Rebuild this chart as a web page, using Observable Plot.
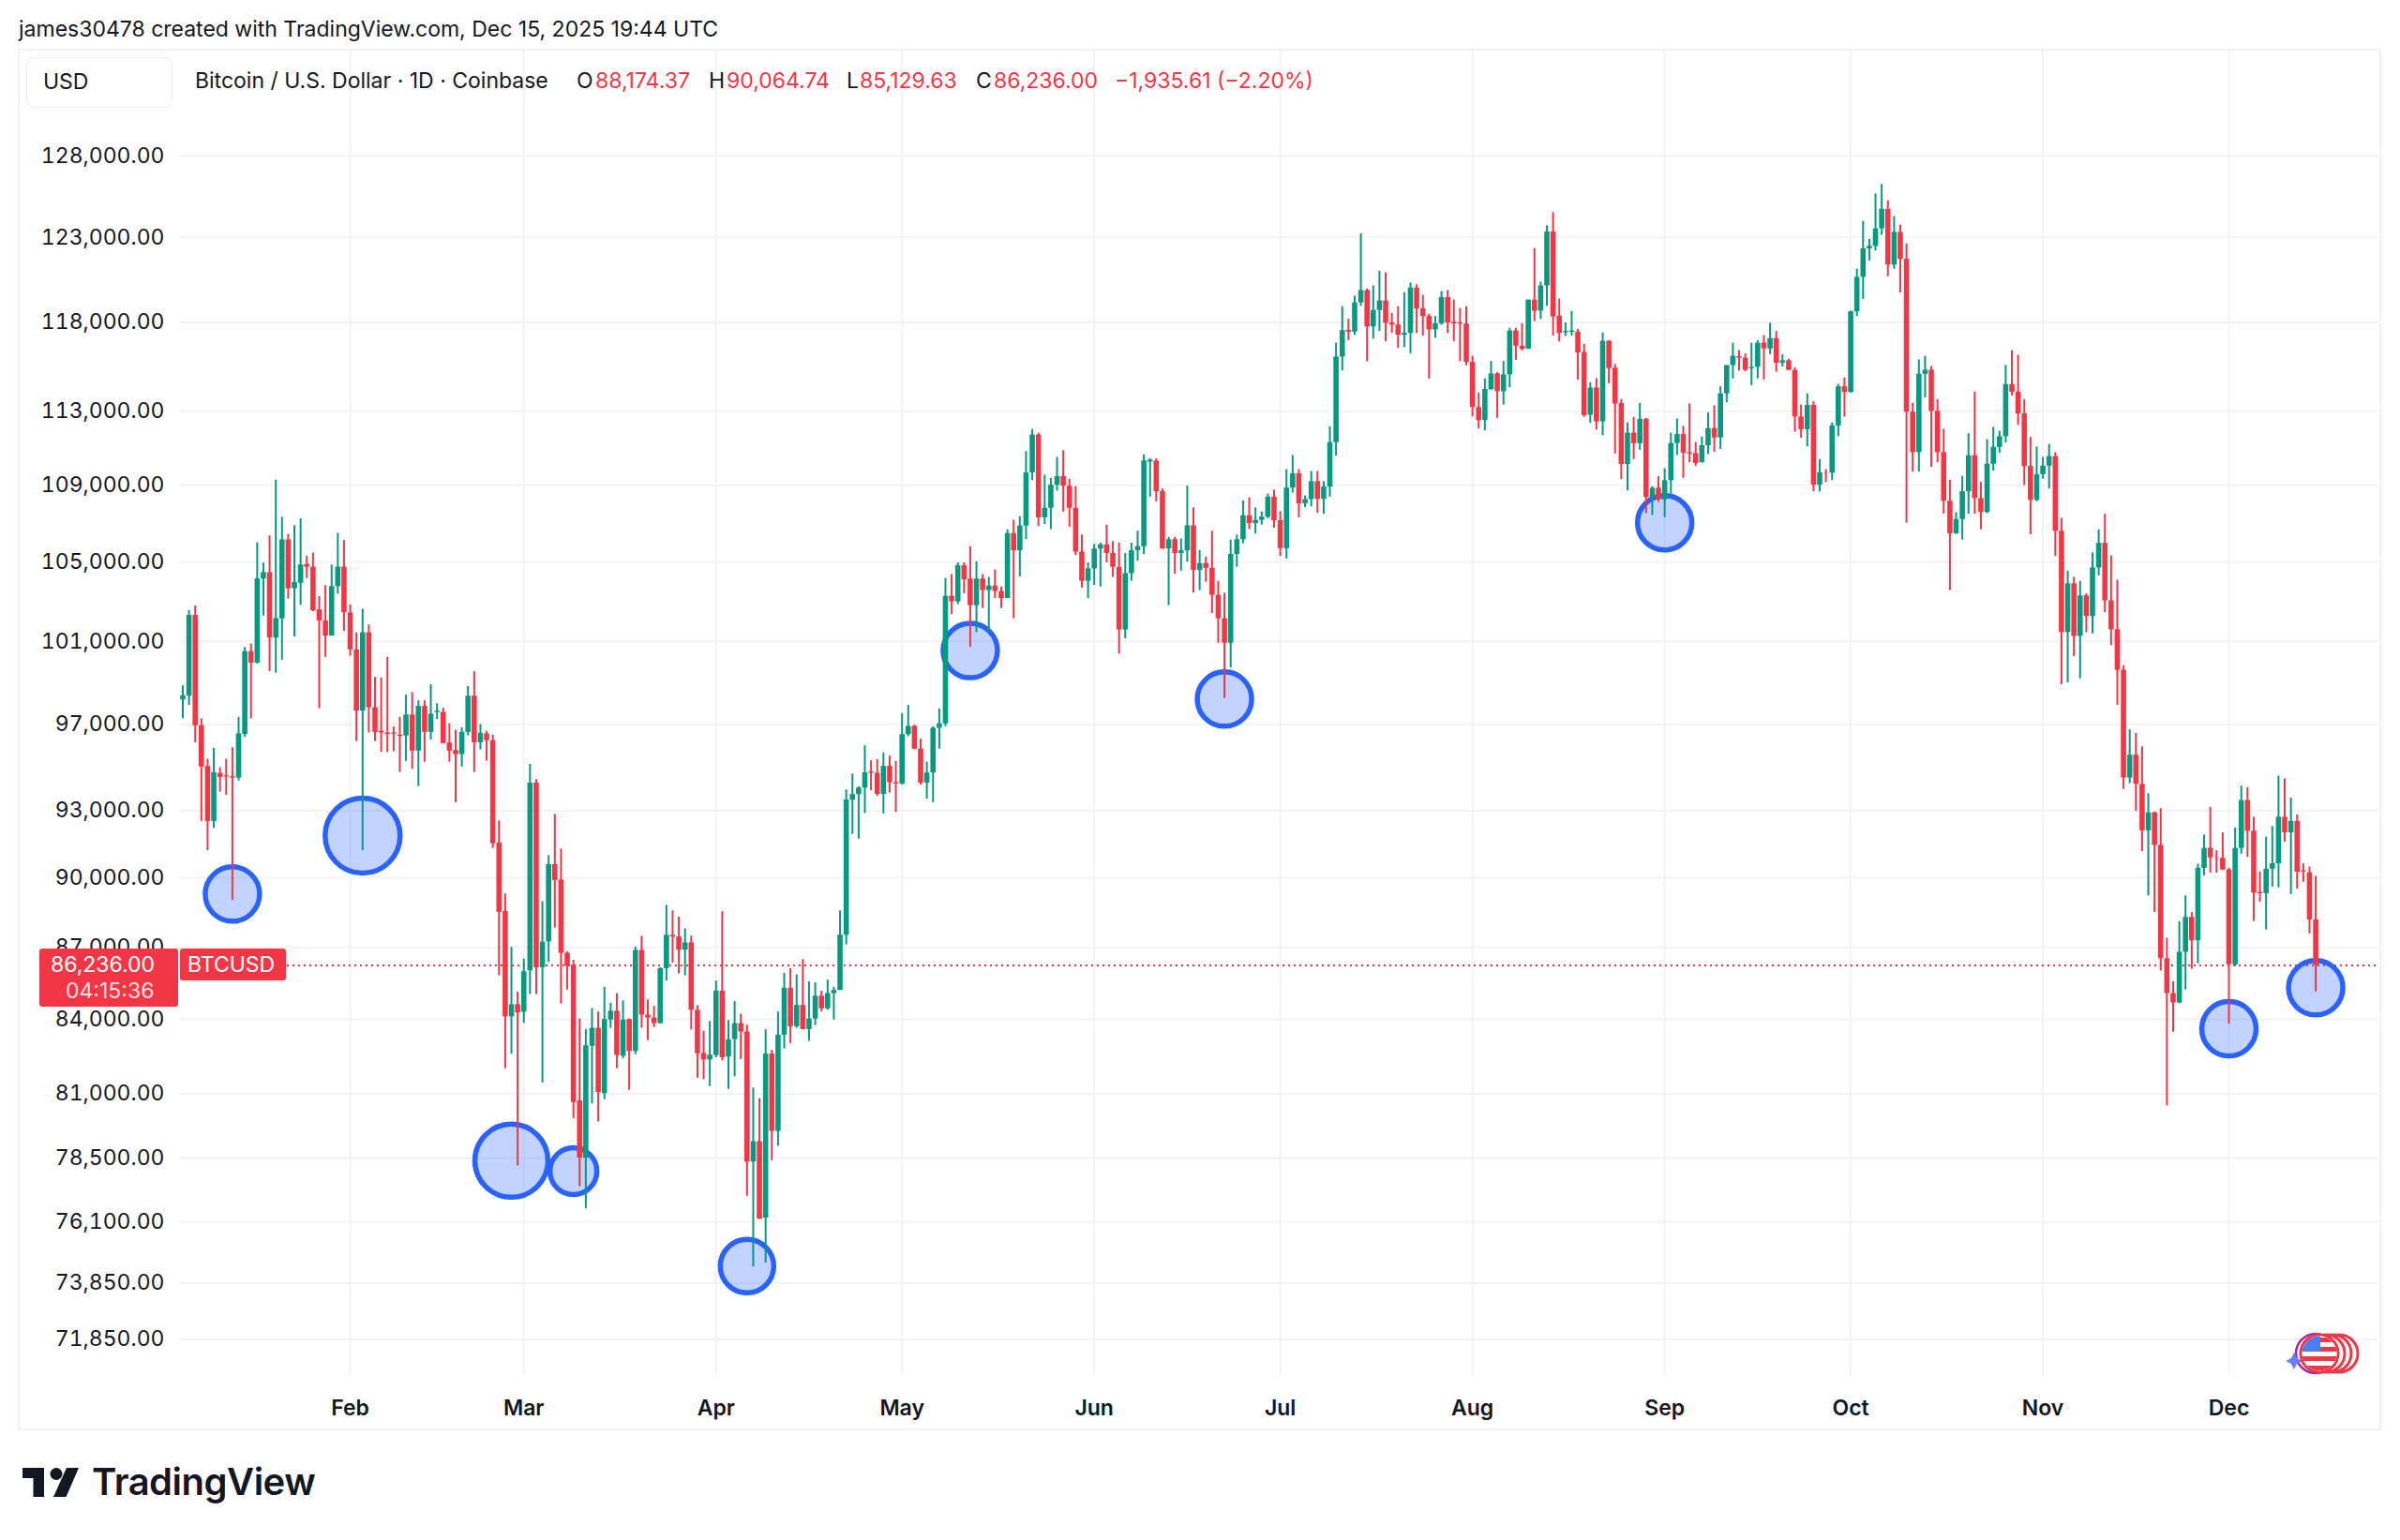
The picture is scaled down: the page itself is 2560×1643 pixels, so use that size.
<!DOCTYPE html>
<html>
<head>
<meta charset="utf-8">
<script src="https://cdn.jsdelivr.net/npm/d3@7"></script>
<script src="https://cdn.jsdelivr.net/npm/@observablehq/plot@0.6"></script>
<style>
  html, body { margin: 0; background: #fff; }
  body { position: relative; width: 2560px; height: 1643px; overflow: hidden; font-family: Inter, sans-serif; color: #131722; }
  #chart { position: absolute; left: 0; top: 0; }
  .abs { position: absolute; white-space: nowrap; line-height: 1; }
  #frame { position: absolute; left: 19px; top: 52px; width: 2517px; height: 1470px; border: 2px solid #f2f2f2; }
  #usd { position: absolute; left: 28px; top: 61px; width: 154px; height: 52px; border: 1.5px solid #efefef; border-radius: 8px; background: #fff; }
  .tag { position: absolute; background: #F23645; border-radius: 3px; }
</style>
</head>
<body>
<div id="frame"></div>
<div id="chart"></div>
<div id="usd"></div>
<div class="tag" style="left:42px;top:1012px;width:148px;height:62px"></div>
<div class="tag" style="left:192px;top:1012px;width:113px;height:34px"></div>
<svg class="abs" style="left:24px;top:1566px" width="60" height="31" viewBox="0 0 60 31">
  <path fill="#131722" d="M0 0h23v31H11.5V11H0z"/>
  <circle fill="#131722" cx="36" cy="6.5" r="6.5"/>
  <path fill="#131722" d="M47 0h13L46.5 31H33z"/>
</svg>
<svg class="abs" style="left:2436px;top:1418px" width="84" height="50" viewBox="0 0 84 50">
  <defs><clipPath id="flag"><circle cx="38" cy="26" r="18.5"/></clipPath></defs>
  <circle cx="34" cy="26" r="21" fill="none" stroke="#9c27b0" stroke-width="2.5"/>
  <path fill="#6a7dff" d="M11 25l3 6 6 3-6 3-3 6-3-6-6-3 6-3z"/>
  <circle cx="59" cy="26" r="20" fill="#fff" stroke="#F23645" stroke-width="3"/>
  <circle cx="52" cy="26" r="20" fill="#fff" stroke="#F23645" stroke-width="3"/>
  <circle cx="45" cy="26" r="20" fill="#fff" stroke="#F23645" stroke-width="3"/>
  <circle cx="38" cy="26" r="20" fill="#fff" stroke="#F23645" stroke-width="3"/>
  <g clip-path="url(#flag)">
    <rect x="19" y="7" width="38" height="38" fill="#fff"/>
    <rect x="19" y="9" width="38" height="5" fill="#F23645"/>
    <rect x="19" y="19" width="38" height="5" fill="#F23645"/>
    <rect x="19" y="29" width="38" height="5" fill="#F23645"/>
    <rect x="19" y="39" width="38" height="5" fill="#F23645"/>
    <rect x="19" y="7" width="20" height="17" fill="#4c7cf0"/>
  </g>
</svg>
<script>
const jan = [
  [98160,98840,97260,98360],[98340,102530,97900,102290],[102290,102760,96130,96930],[96930,97260,92510,95000],
  [95030,95360,91200,92510],[92510,95870,92200,94740],[94710,94970,93840,94520],[94590,95360,93700,94540],
  [94550,95900,89010,94490],[94490,97330,94350,96550],[96520,100700,96380,100500],[100500,100880,97260,99940],
  [99940,105980,99900,104130],[104130,104940,102260,104450],[104450,106340,99520,101170],[101170,109270,99450,102130],
  [102120,107310,100080,106130],[106130,106420,103110,103630],[103630,106870,101220,103950],[103910,107230,102800,104840],
  [104870,105290,104150,104720],[104730,105450,102480,102530],[102570,103240,97740,102020],[102020,103790,100220,101270],
  [101270,104840,101260,103740],[103740,106470,103350,104730],[104730,106100,101500,102420]
];
const feb = [
  [102420,102810,100280,100590],[100590,101430,96190,97630],[97630,102600,91200,101430],[101430,101820,96590,97790],
  [97790,99250,96190,96620],[96670,99220,95690,96590],[96590,100230,95670,96520],[96590,96880,95710,96540],
  [96490,97330,94750,96430],[96450,98390,95260,97440],[97440,98510,94890,95740],[95740,98120,94100,97850],
  [97850,98120,95220,96620],[96620,98890,96260,97480],[97560,97980,97230,97620],[97560,97760,96090,96090],
  [96120,97030,95220,95740],[95770,96720,93360,95580],[95580,96840,95000,96620],[96620,98800,96450,98340],
  [98340,99520,94750,96130],[96130,96990,95800,96580],[96550,96670,95270,96230],[96230,96490,91300,91510],
  [91540,92530,85800,88500],[88530,89290,82000,84100],[84100,87000,82580,84600],[84600,85120,78200,84260]
];
const mar = [
  [84290,86500,83830,85970],[86010,95120,85020,94260],[94260,94420,85020,86140],[86140,88960,81430,87220],
  [87230,90980,86360,90580],[90580,92830,87820,89880],[89900,91270,84630,86750],[86750,86810,85210,86200],
  [86240,86450,80020,80660],[80720,84010,77410,78500],[78500,83580,76580,82920],[82900,84440,80600,83630],
  [83630,84300,79900,81050],[81010,85320,80770,83990],[83970,84660,83630,84330],[84330,85060,82000,82530],
  [82500,84760,82400,83970],[83990,84010,81140,82690],[82690,87010,82560,86870],[86870,87470,83630,84170],
  [84170,84800,83130,84050],[84050,84530,83660,83820],[83820,86140,83820,86100],[86100,88800,85580,87510],
  [87510,88560,86330,87440],[87440,88290,85880,86880],[86880,87790,85800,87190],[87190,87480,83560,84370],
  [84370,84560,81620,82600],[82610,83510,81560,82350],[82350,83910,81290,82540]
];
const apr = [
  [82530,85580,82440,85160],[85160,88520,82310,82440],[82470,83950,81180,83160],[83170,84730,81670,83820],
  [83820,84210,82370,83480],[83480,83760,77050,78350],[78350,81230,74440,79130],[79130,80810,76180,76200],
  [76240,83570,74580,82590],[82590,82740,78400,79530],[79530,84300,78950,83350],[83350,85900,82790,85280],
  [85280,86100,83010,83700],[83700,85840,83630,84570],[84570,86480,83580,83580],[83580,85550,83100,84010],
  [84010,85510,83740,84950],[84950,85160,84310,84430],[84430,85620,84370,85060],[85060,85320,83970,85190],
  [85190,88560,85190,87520],[87520,93940,87100,93480],[93480,94670,91930,93730],[93730,94090,91720,94030],
  [94030,95990,92870,94730],[94770,95290,93910,94710],[94710,95340,93650,93740],[93740,95650,92850,95030],
  [95030,95510,93800,94280],[94280,95260,92930,94220]
];
const may = [
  [94220,97510,94170,96510],[96510,97900,96410,96900],[96900,96960,95800,95830],[95840,96290,94170,94260],
  [94260,95220,93520,94720],[94720,96890,93360,96810],[96810,97730,95830,97020],[97020,104160,96890,103250],
  [103250,104350,102340,102970],[102970,104950,102830,104800],[104800,104950,103380,104090],[104120,105770,100710,102780],
  [102780,105000,101440,104120],[104120,104350,102640,103540],[103540,104210,101410,103770],[103770,104590,103140,103490],
  [103490,103720,102640,103140],[103140,106660,103140,106460],[106460,107150,102120,105570],[105570,107340,104240,106850],
  [106850,110800,106150,109660],[109660,112000,109240,111700],[111700,111800,106820,107280],[107280,109530,106930,107780],
  [107780,109360,106660,109000],[109000,110490,108690,109460],[109460,110850,107580,108950],[108950,109320,106790,107780],
  [107780,108920,105320,105500],[105500,106380,103660,104010],[104010,104950,103140,104640]
];
const jun = [
  [104640,105900,103800,105660],[105660,105960,103720,105870],[105870,106900,104950,105430],[105430,106040,104210,104720],
  [104720,105960,100380,101570],[101570,105430,101130,104400],[104400,105960,104010,105570],[105570,106580,105030,105780],
  [105780,110630,105380,110290],[110240,110420,108370,110340],[110290,110420,108120,108660],[108660,108800,105650,105660],
  [105660,106260,102780,106140],[106140,106260,104370,105430],[105430,106180,104530,105570],[105570,108950,104980,106860],
  [106860,107800,103410,104560],[104560,105580,103540,104910],[104910,105240,103960,104670],[104670,106580,102390,103300],
  [103300,104010,100910,102120],[102120,103410,98230,100910],[100910,106120,99710,105380],[105380,106380,104720,106140],
  [106140,108170,105930,107390],[107390,108330,106660,106980],[106980,107800,106440,107150],[107150,107590,106900,107310],
  [107310,108530,107230,108370],[108370,108740,106740,107130]
];
const jul = [
  [107130,107600,105280,105680],[105680,109830,105150,108850],[108850,110590,108580,109610],[109610,109830,107280,108020],
  [108020,108430,107810,108240],[108240,109730,107850,109190],[109190,109730,107520,108250],[108250,109190,107470,108900],
  [108900,112150,108370,111290],[111290,116820,110560,116030],[116030,118920,115250,117540],[117560,118200,116960,117450],
  [117450,119530,117260,119140],[119140,123220,118940,119860],[119860,119950,115770,117750],[117750,120130,117050,118700],
  [118700,121000,117490,119250],[119250,120900,116910,117960],[117980,118530,117380,117860],[117860,118920,116520,117280],
  [117280,119730,116570,117380],[117380,120300,116220,120000],[120000,120190,117380,118790],[118790,119580,117230,118350],
  [118350,118480,114800,117580],[117580,118350,117100,117930],[117930,119800,117840,119450],[119450,119860,117370,117980],
  [118020,119310,116910,117930],[117980,118810,115770,117910],[117910,118920,115540,115730]
];
const aug = [
  [115730,116080,112690,113210],[113210,114020,112030,112490],[112490,114810,111930,114210],[114210,115780,114140,115080],
  [115080,115150,112610,114090],[114090,115780,113350,115030],[115030,117670,114310,117510],[117510,117670,115840,116650],
  [116650,117930,116380,116470],[116470,119300,116470,119300],[119300,122340,118060,118660],[118660,120350,118170,120130],
  [120130,123700,118940,123330],[123330,124510,117230,118330],[118370,119360,116890,117370],[117420,117980,117210,117490],
  [117440,118640,117230,117510],[117450,117610,114730,116260],[116290,116750,112670,112770],[112790,114590,112340,114290],
  [114290,114820,111970,112420],[112420,117400,111660,116930],[116930,116960,114530,115380],[115400,115610,110670,113400],
  [113440,113650,109300,110110],[110110,112360,108700,111800],[111800,112660,110370,111230],[111230,113440,110870,112560],
  [112560,112610,107490,108350],[108350,108920,107410,108840],[108840,109460,108090,108220]
];
const sep = [
  [108220,109880,107290,109240],[109240,111800,108540,111240],[111240,112580,110590,111730],[111730,112170,109370,110720],
  [110740,113400,110210,110670],[110690,111300,110010,110160],[110210,111590,110180,111120],[111120,112920,110640,112050],
  [112050,113300,110770,111540],[111540,114360,110920,113970],[113970,115550,113480,115550],[115550,116820,114800,116080],
  [116060,116400,115240,115970],[115970,116210,115200,115290],[115380,116820,114430,115450],[115450,116960,114800,116820],
  [116820,117250,114740,116490],[116490,117960,116170,117080],[117080,117490,115170,115680],[115680,116170,115470,115820],
  [115820,115910,115280,115280],[115280,115430,111850,112690],[112690,113350,111530,111990],[111990,113970,111060,113330],
  [113330,113530,108650,109000],[109000,110370,108640,109660],[109660,109830,109140,109640],[109640,112360,109240,112200],
  [112200,114500,111610,114360],[114360,114850,112680,114040]
];
const oct = [
  [114040,118660,114010,118620],[118620,121110,118350,120630],[120630,123970,119340,122320],[122320,122890,121600,122470],
  [122470,125640,122190,123520],[123520,126220,123130,124700],[124700,125230,120670,121360],[121360,124260,121110,123310],
  [123310,123750,119710,121700],[121700,122610,107000,112950],[112950,113440,109700,110750],[110750,115870,109700,115060],
  [115060,116080,113740,115290],[115290,115500,109950,113000],[113000,113650,110200,110750],[110750,112010,107470,108150],
  [108150,109270,103540,106450],[106450,107550,106410,107190],[107190,109470,106120,108650],[108650,111770,107470,110580],
  [110580,114060,107470,108290],[108290,109150,106660,107560],[107560,111450,107500,110120],[110120,112120,109750,111030],
  [111030,111910,110710,111610],[111610,115560,111270,114480],[114480,116400,113850,114060],[114060,116130,112230,112860],
  [112860,113650,108980,110000],[110000,111570,106400,108200],[108200,111050,108120,109560]
];
const nov = [
  [109560,110490,109320,110020],[110020,111190,108800,110530],[110530,110750,105280,106580],[106580,107260,98890,101440],
  [101440,104530,98980,103880],[103880,104210,100250,101250],[101250,104010,99180,103270],[103270,103380,101430,102240],
  [102240,105460,101380,104690],[104690,106650,104280,105950],[105950,107460,102430,103020],[103020,105310,100790,101580],
  [101580,104070,97900,99590],[99590,99810,93970,94490],[94490,96740,94230,95550],[95550,96570,92970,94200],
  [94200,95940,91160,92090],[92090,93770,89210,92900],[92900,92940,88490,91440],[91440,93090,86000,86520],
  [86520,87390,80520,85060],[85060,85550,83470,84670],[84670,88090,84640,86790],[86790,89210,85210,88280],
  [88280,88490,86070,87280],[87280,90600,86300,90420],[90420,91900,90080,91300],[91300,93150,90210,90880],
  [90880,91200,90210,90860],[90860,92000,90320,90350]
];
const dec = [
  [90350,90420,83800,86260],[86260,92210,86190,91300],[91300,94120,91050,93460],[93460,94050,90910,92070],
  [92070,92700,88100,89330],[89370,90260,88940,89310],[89310,91800,87740,90380],[90380,92280,89600,90620],
  [90620,94580,89560,92700],[92700,94450,91580,92000],[92000,93570,89270,92510],[92510,92800,89500,90250],
  [90310,90620,89800,90260],[90220,90470,87570,88170],[88174.37,90064.74,85129.63,86236]
];

const firstDay = "2025-01-05";
const lastPrice = 86236;

const yTicks = [128000, 123000, 118000, 113000, 109000, 105000, 101000, 97000, 93000, 90000, 87000, 84000, 81000, 78500, 76100, 73850, 71850];
const monthTicks = ["2025-02-01", "2025-03-01", "2025-04-01", "2025-05-01", "2025-06-01", "2025-07-01", "2025-08-01", "2025-09-01", "2025-10-01", "2025-11-01", "2025-12-01"];

// the hand drawn blue circles: day, price, radius
const circleDays = ["2025-01-13", "2025-02-03", "2025-02-27", "2025-03-09", "2025-04-06", "2025-05-12", "2025-06-22", "2025-09-01", "2025-12-01", "2025-12-15"];
const circlePrices = [89290, 91870, 78400, 78000, 74470, 100550, 98200, 107020, 83610, 85300];
const circleSizes = [29, 40, 39, 25, 28.5, 29, 29, 29, 29, 29];

const up = "#089981", down = "#F23645", ink = "#131722", grid = "#f3f3f3";

const rows = [...jan, ...feb, ...mar, ...apr, ...may, ...jun, ...jul, ...aug, ...sep, ...oct, ...nov, ...dec];
const start = new Date(firstDay);
const candles = rows.map(([open, high, low, close], i) => ({
  date: d3.utcDay.offset(start, i), open, high, low, close,
  color: close >= open ? up : down
}));
const circles = circleDays.map((d, i) => ({ date: new Date(d), price: circlePrices[i], size: circleSizes[i] }));
const monthDates = monthTicks.map(d => new Date(d));

document.getElementById("chart").append(Plot.plot({
  width: 2560,
  height: 1643,
  marginLeft: 192,
  marginRight: 23,
  marginTop: 53,
  marginBottom: 176,
  style: { fontFamily: "Inter, sans-serif", background: "transparent" },
  x: { type: "utc", domain: [new Date("2025-01-04T15:00Z"), new Date("2025-12-25T04:36Z")] },
  y: { type: "log", domain: [70600, 134770] },
  marks: [
    Plot.gridY(yTicks, { stroke: grid, strokeOpacity: 1, strokeWidth: 2 }),
    Plot.gridX(monthDates, { stroke: grid, strokeOpacity: 1, strokeWidth: 2 }),
    Plot.axisY(yTicks, {
      anchor: "left", tickSize: 0, tickPadding: 17, fontSize: 23, fill: ink,
      tickFormat: d3.format(",.2f"), label: null
    }),
    Plot.axisX(monthDates, {
      anchor: "bottom", tickSize: 0, tickPadding: 26, fontSize: 23, fontWeight: 600, fill: ink,
      tickFormat: d3.utcFormat("%b"), label: null
    }),
    Plot.ruleY([lastPrice], { stroke: down, strokeWidth: 2, strokeDasharray: "2,4" }),
    Plot.dot(circles, {
      x: "date", y: "price", r: { value: "size", scale: null },
      stroke: "#2962FF", strokeWidth: 5.5, fill: "#2962FF", fillOpacity: 0.28
    }),
    Plot.ruleX(candles, { x: "date", y1: "low", y2: "high", stroke: "color", strokeWidth: 2 }),
    Plot.ruleX(candles, { x: "date", y1: "open", y2: "close", stroke: "color", strokeWidth: 5.6 })
  ]
}));

// header, legend and price tags sit outside the plot
function addText(str, left, top, size, color, extra) {
  const el = document.createElement("div");
  el.className = "abs";
  el.textContent = str;
  el.style.cssText = `left:${left}px;top:${top}px;font-size:${size}px;color:${color};${extra || ""}`;
  document.body.append(el);
}
addText("james30478 created with TradingView.com, Dec 15, 2025 19:44 UTC", 20, 20, 23, ink);
addText("USD", 46, 76, 23, ink);
addText("Bitcoin / U.S. Dollar · 1D · Coinbase", 208, 75, 23, ink);
addText("O", 615, 75, 23, ink);
addText("88,174.37", 635, 75, 23, down);
addText("H", 756, 75, 23, ink);
addText("90,064.74", 775, 75, 23, down);
addText("L", 903, 75, 23, ink);
addText("85,129.63", 917, 75, 23, down);
addText("C", 1041, 75, 23, ink);
addText("86,236.00", 1060, 75, 23, down);
addText("−1,935.61 (−2.20%)", 1189, 75, 23, down);
addText("86,236.00", 54, 1018, 23, "#fff");
addText("04:15:36", 70, 1046, 23, "rgba(255,255,255,0.85)");
addText("BTCUSD", 200, 1018, 23, "#fff");
addText("TradingView", 98, 1561, 40, ink, "font-weight:600;letter-spacing:-0.5px");
</script>
</body>
</html>
